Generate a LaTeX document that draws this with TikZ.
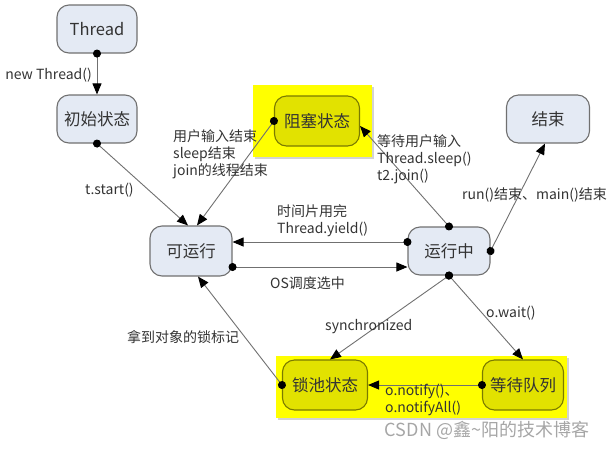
\documentclass[tikz,border=0pt]{standalone}
\usepackage{fontspec}
\setmainfont{Noto Sans CJK SC}
\usetikzlibrary{arrows.meta,shadows}
\definecolor{boxfill}{HTML}{E4EAF4}
\definecolor{boxdraw}{HTML}{707070}
\definecolor{txt}{HTML}{333333}
\definecolor{ylw}{HTML}{FFFF00}
\definecolor{ylwbox}{HTML}{E2E200}
\definecolor{ylwdraw}{HTML}{7A7A00}
\definecolor{linecol}{HTML}{707070}
\begin{document}
\begin{tikzpicture}[x=1pt,y=-1pt,
  state/.style={draw=boxdraw, line width=1.1pt, fill=boxfill, rounded corners=12pt,
    minimum width=#1, minimum height=48pt, inner sep=0pt, text=txt,
    font=\fontsize{16.5}{18}\selectfont},
  state/.default=82pt,
  ystate/.style={state=#1, fill=ylwbox, draw=ylwdraw, minimum height=50pt},
  ystate/.default=84pt,
  ybg/.style={fill=ylw, draw=none, drop shadow={shadow xshift=2pt, shadow yshift=-2pt, opacity=0.35}},
  conn/.style={draw=linecol, line width=0.9pt,
    {Circle[length=8pt,color=black]}-{Triangle[length=11pt,width=9pt,color=black]},
    shorten <=-4pt},
  lbl/.style={text=txt, font=\fontsize{14}{17}\selectfont, inner sep=0pt, align=left}
]
\useasboundingbox (0,0) rectangle (613,448);

% yellow backgrounds
\path[ybg] (253,85) rectangle (372,157);
\path[ybg] (276,356) rectangle (567,418);

% states
\node[state=80pt] (thread) at (97,29) {Thread};
\node[state=80pt] (init) at (97,119) {初始状态};
\node[ystate=85pt] (block) at (317,121) {阻塞状态};
\node[state=83pt] (end) at (548,119) {结束};
\node[state=82pt, minimum height=50pt] (runnable) at (191,251) {可运行};
\node[state=82pt] (run) at (449,251) {运行中};
\node[ystate=85pt] (lock) at (325,385) {锁池状态};
\node[ystate=81pt] (wait) at (523,385) {等待队列};

% connectors
\draw[conn] (thread.south) -- (init.north);
\draw[conn] (init.south) -- ([xshift=-3pt]runnable.north);
\draw[conn] (block.west) -- ([xshift=6pt]runnable.north);
\draw[conn] (run.north) -- ([yshift=-5pt]block.east);
\draw[conn] ([yshift=9pt]run.west) -- ([yshift=9pt]runnable.east);
\draw[conn] ([yshift=-16pt]runnable.east) -- ([yshift=-16pt]run.west);
\draw[conn] (run.east) -- ([xshift=-3pt]end.south);
\draw[conn] (run.south) -- ([xshift=5pt]lock.north);
\draw[conn] (run.south) -- (wait.north);
\draw[conn] (wait.west) -- (lock.east);
\draw[conn] (lock.west) -- ([xshift=7pt]runnable.south);

% labels
\node[lbl, anchor=east] (l1) at (92,75) {new Thread()};
\node[lbl, anchor=west] (l2) at (85,190) {t.start()};
\node[lbl, anchor=north west] (l3) at (173,129) {用户输入结束\\sleep结束\\join的线程结束};
\node[lbl, anchor=north west] (l4) at (377,134) {等待用户输入\\Thread.sleep()\\t2.join()};
\node[lbl, anchor=west] (l5) at (462,195) {run()结束、main()结束};
\node[lbl, anchor=north west] (l6) at (277,204) {时间片用完\\Thread.yield()};
\node[lbl, anchor=west] (l7) at (270,283) {OS调度选中};
\node[lbl, anchor=west] (l8) at (325,327) {synchronized};
\node[lbl, anchor=west] (l9) at (486,313) {o.wait()};
\node[lbl, anchor=west] (l10) at (127,337) {拿到对象的锁标记};
\node[lbl, anchor=north west] (l11) at (385,384) {o.notify()、\\o.notifyAll()};
\node[text=gray!70, font=\fontsize{18}{20}\selectfont, inner sep=0pt] (wm) at (487,430) {CSDN @鑫\textasciitilde 阳的技术博客};
\end{tikzpicture}
\end{document}
